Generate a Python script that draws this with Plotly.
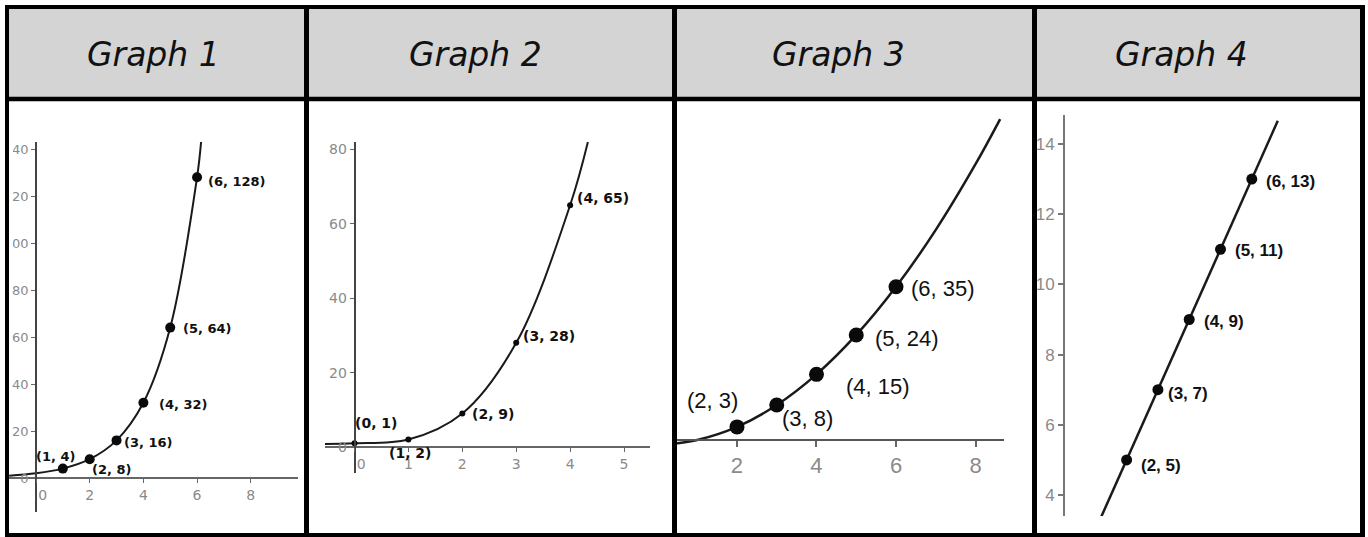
import plotly.graph_objects as go

W, H = 1368, 537

# ---------------- data ----------------
titles = ["Graph 1", "Graph 2", "Graph 3", "Graph 4"]

# Graph 1
g1_x = [1, 2, 3, 4, 5, 6]
g1_y = [4, 8, 16, 32, 64, 128]
g1_curve_x = [-1.0, 0, 1, 2, 3, 4, 5, 6, 6.15]
g1_curve_y = [1, 2, 4, 8, 16, 32, 64, 128, 143]
g1_xticks = [0, 2, 4, 6, 8]
g1_yticks = [0, 20, 40, 60, 80, 100, 120, 140]

# Graph 2
g2_x = [0, 1, 2, 3, 4]
g2_y = [1, 2, 9, 28, 65]
g2_curve_x = [-0.55, 0, 1, 2, 3, 4, 4.33]
g2_curve_y = [0.83, 1, 2, 9, 28, 65, 82]
g2_xticks = [0, 1, 2, 3, 4, 5]
g2_yticks = [0, 20, 40, 60, 80]

# Graph 3
g3_x = [2, 3, 4, 5, 6]
g3_y = [3, 8, 15, 24, 35]
g3_curve_x = [0.37, 1, 2, 3, 4, 5, 6, 7, 8, 8.62]
g3_curve_y = [-0.86, 0, 3, 8, 15, 24, 35, 48, 63, 73.3]
g3_xticks = [2, 4, 6, 8]

# Graph 4
g4_x = [2, 3, 4, 5, 6]
g4_y = [5, 7, 9, 11, 13]
g4_line_x = [1.18, 6.83]
g4_line_y = [3.36, 14.66]
g4_yticks = [4, 6, 8, 10, 12, 14]

# ---------------- helpers ----------------
def px(x):
    return x / W

def py(y):
    return 1 - y / H

def dom_x(a, b):
    return [px(a), px(b)]

def dom_y(top, bottom):
    return [py(bottom), py(top)]

def tick_text(vals):
    return [("\u00a0\u00a0\u00a0" + str(v)) if v == 0 else str(v) for v in vals]

fig = go.Figure()

# ---------------- traces ----------------
panels = [
    dict(cx=g1_curve_x, cy=g1_curve_y, x=g1_x, y=g1_y, lw=2, ms=10, shape="spline"),
    dict(cx=g2_curve_x, cy=g2_curve_y, x=g2_x, y=g2_y, lw=2, ms=6, shape="spline"),
    dict(cx=g3_curve_x, cy=g3_curve_y, x=g3_x, y=g3_y, lw=2.5, ms=15, shape="spline"),
    dict(cx=g4_line_x, cy=g4_line_y, x=g4_x, y=g4_y, lw=2.5, ms=11, shape="linear"),
]
for i, p in enumerate(panels):
    xa = "x" if i == 0 else f"x{i+1}"
    ya = "y" if i == 0 else f"y{i+1}"
    fig.add_trace(go.Scatter(x=p["cx"], y=p["cy"], mode="lines", xaxis=xa, yaxis=ya,
                             line=dict(color="#1a1a1a", width=p["lw"], shape=p["shape"], smoothing=1),
                             hoverinfo="skip", showlegend=False))
    fig.add_trace(go.Scatter(x=p["x"], y=p["y"], mode="markers", xaxis=xa, yaxis=ya,
                             marker=dict(color="#0a0a0a", size=p["ms"]),
                             showlegend=False))

# ---------------- axes ----------------
gray_font1 = dict(family="DejaVu Sans", size=14, color="#8a8a8a")
gray_font1y = dict(family="DejaVu Sans", size=13, color="#8a8a8a")
common = dict(showgrid=False, zeroline=False, fixedrange=True)

fig.update_layout(
    xaxis=dict(domain=dom_x(9, 298), range=[-1.006, 9.76], anchor="free", position=py(478),
               showline=True, linecolor="#666", linewidth=1.5, ticks="outside", ticklen=4,
               tickcolor="#666", tickvals=g1_xticks, ticktext=tick_text(g1_xticks),
               tickfont=gray_font1, **common),
    yaxis=dict(domain=dom_y(142, 512), range=[-14.47, 142.98], anchor="free", position=px(36),
               showline=True, linecolor="#444", linewidth=1.5, ticks="outside", ticklen=4,
               tickcolor="#666", tickvals=g1_yticks, tickfont=gray_font1y, **common),
    xaxis2=dict(domain=dom_x(325, 650), range=[-0.547, 5.482], anchor="free", position=py(447),
                showline=True, linecolor="#666", linewidth=1.5, ticks="outside", ticklen=4,
                tickcolor="#666", tickvals=g2_xticks, ticktext=tick_text(g2_xticks),
                tickfont=gray_font1, **common),
    yaxis2=dict(domain=dom_y(141.7, 472.7), range=[-6.9, 82.07], anchor="free", position=px(354.5),
                showline=True, linecolor="#444", linewidth=1.5, ticks="outside", ticklen=4,
                tickcolor="#666", tickvals=g2_yticks, tickfont=gray_font1, **common),
    xaxis3=dict(domain=dom_x(672, 1004), range=[0.365, 8.717], anchor="free", position=py(440),
                showline=True, linecolor="#555", linewidth=2, ticks="outside", ticklen=6,
                tickwidth=1.5, tickcolor="#666", tickvals=g3_xticks,
                tickfont=dict(family="Liberation Sans", size=22, color="#8a8a8a"), **common),
    yaxis3=dict(domain=dom_y(102, 532), range=[-21, 77.2], anchor="x3", visible=False, **common),
    xaxis4=dict(domain=dom_x(1037, 1360), range=[-0.863, 9.457], anchor="y4", visible=False, **common),
    yaxis4=dict(domain=dom_y(115, 516), range=[3.402, 14.826], anchor="free", position=px(1064),
                showline=True, linecolor="#777", linewidth=2, ticks="outside", ticklen=5,
                tickwidth=1.5, tickcolor="#777", tickvals=g4_yticks,
                tickfont=dict(family="Liberation Sans", size=17, color="#8a8a8a"), **common),
)

# ---------------- point labels ----------------
label_offsets = [
    [(-27.9, -12.6), (1, 10.1), (6.7, 2.3), (14.9, 1.5), (11.4, 0.7), (9.6, 4.5)],
    [(-0.2, -20.6), (-20.1, 13.1), (8.7, 0.8), (5.5, -6.8), (5.6, -7.5)],
    [(-51, -26.9), (4.6, 13.3), (28.2, 11.7), (17.4, 3.4), (14.3, 1.6)],
    [(13.4, 5.1), (9.4, 3.6), (13.5, 2.2), (13.5, 0.7), (13.2, 1.9)],
]
label_fonts = [
    dict(family="DejaVu Sans", size=13, color="#111", weight="bold"),
    dict(family="DejaVu Sans", size=14, color="#111", weight="bold"),
    dict(family="Liberation Sans", size=22, color="#111"),
    dict(family="Liberation Sans", size=17, color="#111", weight="bold"),
]
annotations = []
for i, p in enumerate(panels):
    xa = "x" if i == 0 else f"x{i+1}"
    ya = "y" if i == 0 else f"y{i+1}"
    for (xv, yv), (dx, dy) in zip(zip(p["x"], p["y"]), label_offsets[i]):
        annotations.append(dict(x=xv, y=yv, xref=xa, yref=ya, text=f"({xv}, {yv})",
                                showarrow=False, xanchor="left", yanchor="middle",
                                xshift=dx, yshift=-dy, borderpad=0, font=label_fonts[i]))

# ---------------- header titles ----------------
title_cx = [153, 475, 838, 1181]
for t, cx in zip(titles, title_cx):
    annotations.append(dict(x=px(cx), y=py(54), xref="paper", yref="paper", text=f"<i>{t}</i>",
                            showarrow=False, xanchor="center", yanchor="middle",
                            font=dict(family="DejaVu Sans", size=33, color="#111")))

# ---------------- table frame ----------------
shapes = []
shapes.append(dict(type="rect", xref="paper", yref="paper", x0=px(5), x1=px(1365), y0=py(99), y1=py(5),
                   fillcolor="#d4d4d4", line=dict(width=0), layer="below"))
# mask for clipped tick labels at left edge of panel 1
shapes.append(dict(type="rect", xref="paper", yref="paper", x0=px(8), x1=px(13), y0=py(255), y1=py(140),
                   fillcolor="white", line=dict(width=0), layer="above"))
def hline(y, x0, x1, w):
    return dict(type="line", xref="paper", yref="paper", x0=px(x0), x1=px(x1), y0=py(y), y1=py(y),
                line=dict(color="#000", width=w), layer="above")
def vline(x, y0, y1, w):
    return dict(type="line", xref="paper", yref="paper", x0=px(x), x1=px(x), y0=py(y0), y1=py(y1),
                line=dict(color="#000", width=w), layer="above")
shapes += [
    hline(7, 5, 1365, 4),
    hline(99, 5, 1365, 4.5),
    hline(535, 5, 1365, 4),
    vline(7, 5, 537, 4),
    vline(306.5, 5, 537, 5),
    vline(674.5, 5, 537, 5),
    vline(1034.5, 5, 537, 5),
    vline(1362.5, 5, 537, 5),
]

fig.update_layout(
    width=W, height=H, margin=dict(l=0, r=0, t=0, b=0),
    paper_bgcolor="white", plot_bgcolor="rgba(0,0,0,0)",
    annotations=annotations, shapes=shapes, showlegend=False,
)

fig.write_html("out.html", config={"displayModeBar": False},
               post_script="document.body.style.margin='0';document.body.style.padding='0';"
                           "document.body.style.overflow='hidden';")
